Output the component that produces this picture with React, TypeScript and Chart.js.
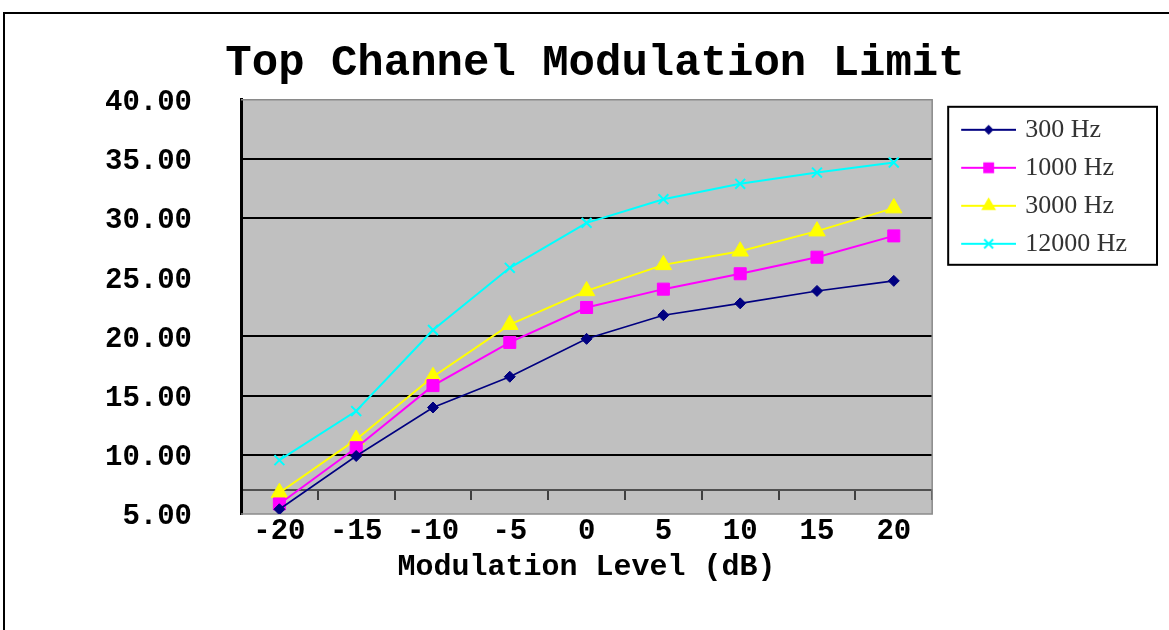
import React, { useEffect, useRef } from 'react';
import { Chart, registerables } from 'chart.js';

Chart.register(...registerables);

const categories = ['-20', '-15', '-10', '-5', '0', '5', '10', '15', '20'];
const series300 = [5.4, 9.9, 14.0, 16.6, 19.8, 21.8, 22.8, 23.85, 24.7];
const series1000 = [5.85, 10.6, 15.85, 19.5, 22.45, 24.0, 25.3, 26.7, 28.5];
const series3000 = [6.8, 11.3, 16.6, 21.0, 23.85, 26.05, 27.2, 28.9, 30.85];
const series12000 = [9.55, 13.7, 20.55, 25.8, 29.6, 31.6, 32.9, 33.85, 34.7];
const seriesNames = ['300 Hz', '1000 Hz', '3000 Hz', '12000 Hz'];
const yMin = 5;
const yMax = 40;
const yStep = 5;
const xAxisCrossValue = 7;
const hiddenGridValues = [5, 25, 40];
const titleText = 'Top Channel Modulation Limit';
const xTitleText = 'Modulation Level (dB)';

const COLORS = ['#000080', '#ff00ff', '#ffff00', '#00ffff'];
const STYLES = ['rectRot', 'rect', 'triangle', 'crossRot'];
const RADII = [5.5, 8.5, 9.5, 7];

function drawMarker(g: CanvasRenderingContext2D, style: string, cx: number, cy: number, r: number, color: string) {
  g.fillStyle = color;
  g.strokeStyle = color;
  g.beginPath();
  if (style === 'rectRot') {
    g.moveTo(cx, cy - r);
    g.lineTo(cx + r, cy);
    g.lineTo(cx, cy + r);
    g.lineTo(cx - r, cy);
    g.closePath();
    g.fill();
  } else if (style === 'rect') {
    const s = r * Math.SQRT1_2;
    g.rect(cx - s, cy - s, 2 * s, 2 * s);
    g.fill();
  } else if (style === 'triangle') {
    g.moveTo(cx, cy - r);
    g.lineTo(cx + r * 0.866, cy + r * 0.5);
    g.lineTo(cx - r * 0.866, cy + r * 0.5);
    g.closePath();
    g.fill();
  } else {
    const s = r * Math.SQRT1_2;
    g.lineWidth = 2;
    g.moveTo(cx - s, cy - s);
    g.lineTo(cx + s, cy + s);
    g.moveTo(cx + s, cy - s);
    g.lineTo(cx - s, cy + s);
    g.stroke();
  }
}

function legendGlyph(i: number): HTMLCanvasElement {
  const c = document.createElement('canvas');
  c.width = 76;
  c.height = 22;
  const g = c.getContext('2d') as CanvasRenderingContext2D;
  g.strokeStyle = COLORS[i];
  g.lineWidth = 2;
  g.beginPath();
  g.moveTo(21, 11);
  g.lineTo(76, 11);
  g.stroke();
  drawMarker(g, STYLES[i], 48.5, 11, RADII[i] * 0.9, COLORS[i]);
  return c;
}

const plotDecor = {
  id: 'plotDecor',
  beforeDraw(chart: any) {
    const { ctx, chartArea: a } = chart;
    ctx.save();
    ctx.fillStyle = '#c0c0c0';
    ctx.fillRect(a.left, a.top, a.right - a.left, a.bottom - a.top);
    ctx.restore();
  },
  beforeDatasetsDraw(chart: any) {
    const { ctx, chartArea: a } = chart;
    ctx.save();
    ctx.strokeStyle = '#8a8a8a';
    ctx.lineWidth = 1.5;
    ctx.beginPath();
    ctx.moveTo(a.left, a.top);
    ctx.lineTo(a.right, a.top);
    ctx.lineTo(a.right, a.bottom);
    ctx.lineTo(a.left, a.bottom);
    ctx.stroke();
    ctx.restore();
  },
  afterDraw(chart: any) {
    const lg = chart.legend;
    if (!lg || !lg.legendHitBoxes || !lg.legendHitBoxes.length) return;
    const hb = lg.legendHitBoxes;
    const last = hb[hb.length - 1];
    const { ctx } = chart;
    const left = lg.left + 16;
    const top = hb[0].top - 10;
    const right = chart.width - 12;
    const bottom = last.top + last.height + 8;
    ctx.save();
    ctx.strokeStyle = '#000';
    ctx.lineWidth = 2;
    ctx.strokeRect(left, top, right - left, bottom - top);
    ctx.restore();
  },
};

export default function App() {
  const ref = useRef<HTMLCanvasElement | null>(null);

  useEffect(() => {
    if (!ref.current) return;
    const allSeries = [series300, series1000, series3000, series12000];
    const glyphs = seriesNames.map((_, i) => legendGlyph(i));
    const chart = new Chart(ref.current, {
      type: 'line',
      data: {
        labels: categories,
        datasets: allSeries.map((d, i) => ({
          label: seriesNames[i],
          data: d,
          borderColor: COLORS[i],
          backgroundColor: COLORS[i],
          borderWidth: i === 0 ? 1.6 : 2,
          pointStyle: STYLES[i] as any,
          pointRadius: RADII[i],
          pointBorderWidth: i === 3 ? 2 : 1,
          pointBorderColor: COLORS[i],
          pointBackgroundColor: COLORS[i],
          tension: 0,
          fill: false,
        })),
      },
      options: {
        animation: false,
        responsive: false,
        maintainAspectRatio: false,
        layout: { padding: { left: 53, right: 32, top: 0, bottom: 116 } },
        scales: {
          x: {
            type: 'category',
            offset: true,
            position: { y: xAxisCrossValue } as any,
            grid: {
              drawOnChartArea: false,
              drawTicks: true,
              offset: true,
              tickLength: 9,
              color: '#404040',
              lineWidth: 2,
            },
            border: { display: true, color: '#505050', width: 2 },
            ticks: {
              color: '#000',
              padding: 15,
              maxRotation: 0,
              autoSkip: false,
              font: { family: 'Liberation Mono', size: 29, weight: 'bold' },
            },
            title: {
              display: true,
              text: xTitleText,
              color: '#000',
              padding: { top: -12, bottom: 4 },
              font: { family: 'Liberation Mono', size: 30, weight: 'bold', lineHeight: 1 },
            },
          },
          y: {
            type: 'linear',
            min: yMin,
            max: yMax,
            afterFit: (s: any) => {
              s.width = 188;
            },
            ticks: {
              stepSize: yStep,
              color: '#000',
              padding: 49,
              labelOffset: 3,
              font: { family: 'Liberation Mono', size: 29, weight: 'bold' },
              callback: (v: any) => Number(v).toFixed(2),
            },
            grid: {
              drawTicks: false,
              lineWidth: 2,
              color: (ctx: any) =>
                ctx.tick && hiddenGridValues.includes(ctx.tick.value) ? 'rgba(0,0,0,0)' : '#000',
            },
            border: { display: true, color: '#000', width: 3 },
          },
        },
        plugins: {
          title: {
            display: true,
            text: titleText,
            color: '#000',
            font: { family: 'Liberation Mono', size: 44, weight: 'bold', lineHeight: 1.2 },
            padding: { top: 38, bottom: 9 },
          },
          legend: {
            display: true,
            position: 'right',
            align: 'start',
            fullSize: false,
            title: { display: true, text: ' ', font: { size: 5, lineHeight: 1 }, padding: 0 },
            labels: {
              usePointStyle: true,
              pointStyleWidth: 68,
              padding: 12,
              color: '#333',
              font: { family: 'Liberation Serif', size: 26 },
              generateLabels: (ch: any) =>
                Chart.defaults.plugins.legend.labels.generateLabels(ch).map((it: any, i: number) => ({
                  ...it,
                  pointStyle: glyphs[i],
                })),
            },
          },
          tooltip: { enabled: false },
        },
      },
      plugins: [plotDecor],
    });
    return () => chart.destroy();
  }, []);

  return (
    <div style={{ position: 'relative', width: 1169, height: 630, overflow: 'hidden', background: '#fff' }}>
      <style>{'html,body{margin:0;padding:0;overflow:hidden;}'}</style>
      <canvas ref={ref} width={1169} height={630} style={{ position: 'absolute', left: 0, top: 0, width: 1169, height: 630 }} />
      <div
        style={{
          position: 'absolute',
          left: 3,
          top: 12,
          width: 1400,
          height: 800,
          borderLeft: '2px solid #000',
          borderTop: '2px solid #000',
          pointerEvents: 'none',
        }}
      />
    </div>
  );
}
